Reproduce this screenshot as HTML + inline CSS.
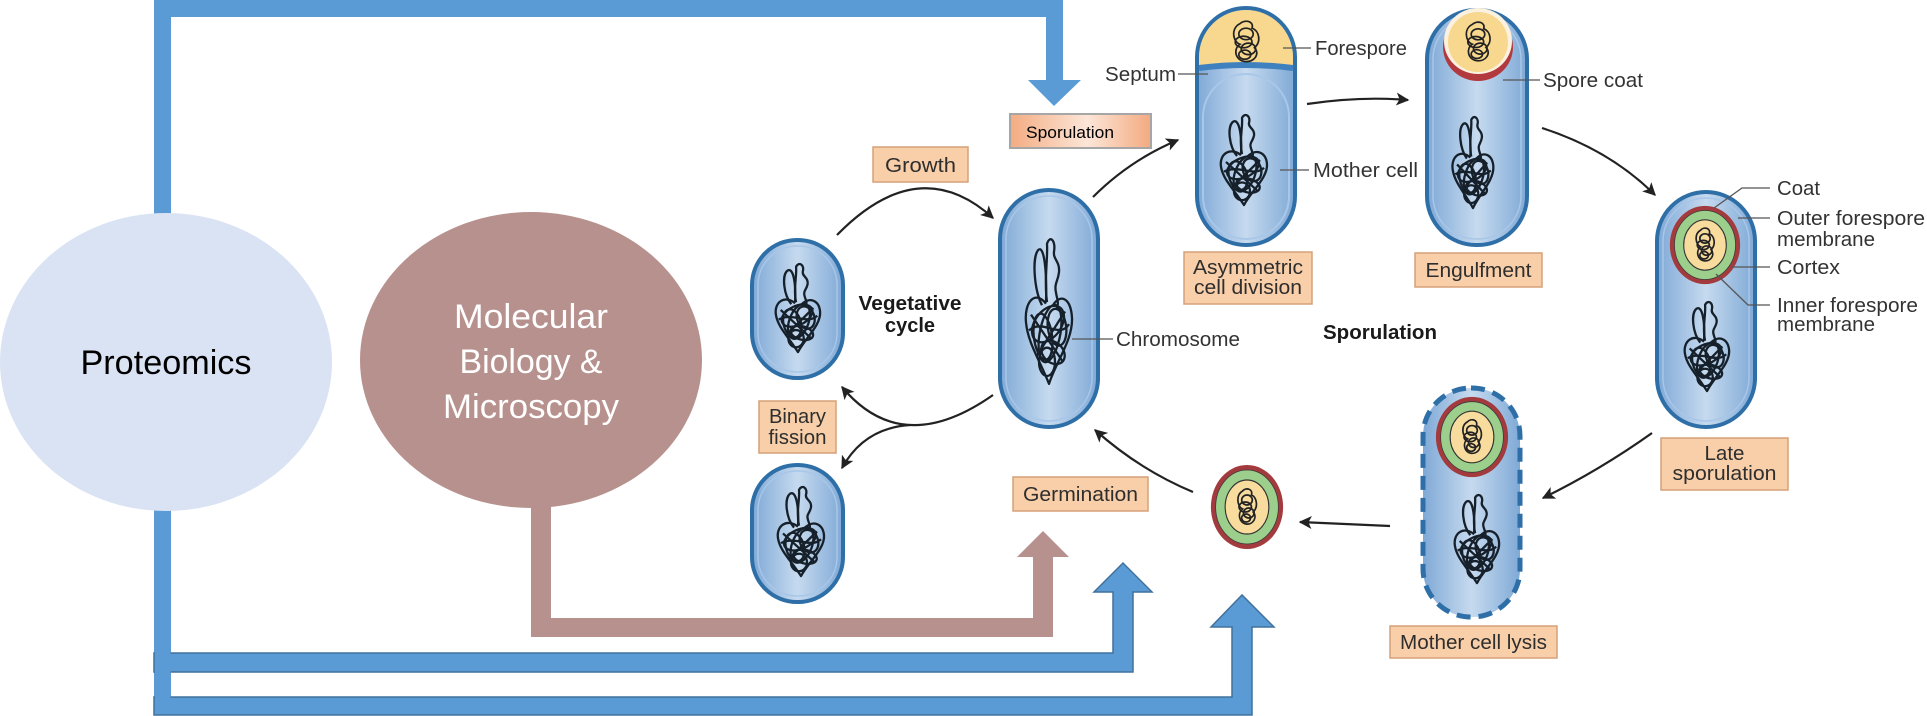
<!DOCTYPE html>
<html>
<head>
<meta charset="utf-8">
<style>
  html,body{margin:0;padding:0;background:#fff;}
  svg{display:block;}
  text{font-family:"Liberation Sans",sans-serif;}
</style>
</head>
<body>
<svg width="1927" height="716" viewBox="0 0 1927 716" xmlns="http://www.w3.org/2000/svg">
<defs>
  <linearGradient id="cg" x1="0" x2="1" y1="0" y2="0">
    <stop offset="0" stop-color="#7FA9D6"/>
    <stop offset="0.5" stop-color="#C6DAEF"/>
    <stop offset="1" stop-color="#7FA9D6"/>
  </linearGradient>
  <linearGradient id="sg" x1="0" x2="1" y1="0" y2="0">
    <stop offset="0" stop-color="#F3AC82"/>
    <stop offset="0.55" stop-color="#FCE6D8"/>
    <stop offset="1" stop-color="#F3AA80"/>
  </linearGradient>
  <marker id="ah" viewBox="0 0 10 10" refX="9" refY="5" markerWidth="13" markerHeight="13" markerUnits="userSpaceOnUse" orient="auto">
    <path d="M0,0 L10,5 L0,10 L2.5,5 z" fill="#222"/>
  </marker>
  <symbol id="chr" viewBox="0 0 52 96" preserveAspectRatio="none">
    <g fill="none" stroke="#16202a" stroke-width="2.3" stroke-linejoin="round">
      <path vector-effect="non-scaling-stroke" d="M19,44 C11,34 9,14 15,9 C21,5 24,22 23,42"/>
      <path vector-effect="non-scaling-stroke" d="M24,42 C21,28 25,14 24,5 C27,-1 33,3 31,10 C30,15 37,16 36,23 C35,29 31,30 33,36 C34,40 36,42 34,46"/>
      <path vector-effect="non-scaling-stroke" d="M23,43 C12,34 1,42 3,55 C5,68 16,78 26,94 C33,80 50,66 49,52 C48,40 38,36 30,44"/>
      <ellipse vector-effect="non-scaling-stroke" cx="25" cy="56" rx="17" ry="10" transform="rotate(-25 25 56)"/>
      <ellipse vector-effect="non-scaling-stroke" cx="27" cy="62" rx="10" ry="19" transform="rotate(20 27 62)"/>
      <ellipse vector-effect="non-scaling-stroke" cx="20" cy="64" rx="9" ry="15" transform="rotate(-15 20 64)"/>
      <ellipse vector-effect="non-scaling-stroke" cx="30" cy="74" rx="12" ry="7" transform="rotate(15 30 74)"/>
      <ellipse vector-effect="non-scaling-stroke" cx="24" cy="80" rx="8" ry="9"/>
      <ellipse vector-effect="non-scaling-stroke" cx="34" cy="58" rx="9" ry="12" transform="rotate(-20 34 58)"/>
      <path vector-effect="non-scaling-stroke" d="M8,50 L40,80 M42,48 L14,76 M6,60 C20,52 36,66 46,56"/>
    </g>
  </symbol>
  <symbol id="fchr" viewBox="0 0 30 40" preserveAspectRatio="none">
    <g fill="none" stroke="#222" stroke-width="1.7">
      <path vector-effect="non-scaling-stroke" d="M10,4 C2,8 4,20 10,22 C4,26 6,36 14,37 C22,38 27,30 22,25 C28,20 26,10 20,8 C22,2 14,0 10,4 Z"/>
      <ellipse vector-effect="non-scaling-stroke" cx="15" cy="13" rx="6" ry="5"/>
      <ellipse vector-effect="non-scaling-stroke" cx="13" cy="20" rx="7" ry="5"/>
      <ellipse vector-effect="non-scaling-stroke" cx="17" cy="26" rx="6" ry="5"/>
      <ellipse vector-effect="non-scaling-stroke" cx="14" cy="31" rx="5" ry="4"/>
    </g>
  </symbol>
  <symbol id="spore" viewBox="-40 -44 80 88" preserveAspectRatio="none">
    <ellipse cx="0" cy="0" rx="38" ry="42" fill="#A33B3E"/>
    <ellipse cx="0" cy="0" rx="33" ry="37" fill="#9CCF8B" stroke="#3b3b3b" stroke-width="0.8"/>
    <ellipse cx="0" cy="0" rx="23" ry="27" fill="#F8DC9E" stroke="#333" stroke-width="1.2"/>
    <use href="#fchr" x="-14" y="-20" width="28" height="40"/>
  </symbol>
  <clipPath id="asymclip"><rect x="1199" y="10" width="94" height="233" rx="47"/></clipPath>
</defs>

<!-- ===== Connectors ===== -->
<polygon points="154,0 1063,0 1063,80 1081,80 1054,106 1028,80 1046,80 1046,17 171,17 171,300 154,300" fill="#5B9BD5"/>
<rect x="154" y="400" width="17" height="315" fill="#5B9BD5"/>
<polygon points="154,653 1113,653 1113,592 1094,592 1123,563 1152,592 1133,592 1133,672 154,672" fill="#5B9BD5" stroke="#41719C" stroke-width="1.5"/>
<polygon points="154,697 1232,697 1232,627 1211,627 1242,595 1274,627 1252,627 1252,715 154,715" fill="#5B9BD5" stroke="#41719C" stroke-width="1.5"/>
<rect x="155" y="600" width="15.5" height="114" fill="#5B9BD5"/>
<polygon points="531,470 551,470 551,618 1033,618 1033,557 1017,557 1043,531 1069,557 1053,557 1053,637 531,637" fill="#B7918D"/>

<!-- ===== Ellipses ===== -->
<ellipse cx="166" cy="362" rx="166" ry="149" fill="#DAE3F3"/>
<text x="166" y="374" font-size="34" text-anchor="middle" fill="#000" textLength="171" lengthAdjust="spacingAndGlyphs">Proteomics</text>

<ellipse cx="531" cy="360" rx="171" ry="148" fill="#B7918D"/>
<text x="531" y="328" font-size="34" text-anchor="middle" fill="#fff" textLength="154" lengthAdjust="spacingAndGlyphs">Molecular</text>
<text x="531" y="373" font-size="34" text-anchor="middle" fill="#fff" textLength="143" lengthAdjust="spacingAndGlyphs">Biology &amp;</text>
<text x="531" y="418" font-size="34" text-anchor="middle" fill="#fff" textLength="176" lengthAdjust="spacingAndGlyphs">Microscopy</text>

<rect x="1010" y="114" width="141" height="34" fill="url(#sg)" stroke="#A6A6A6" stroke-width="2"/>
<text x="1026" y="138" font-size="17" fill="#000" textLength="88" lengthAdjust="spacingAndGlyphs">Sporulation</text>

<!-- ===== Cells ===== -->
<rect x="752" y="240" width="91" height="138" rx="45" fill="url(#cg)" stroke="#2F6FA8" stroke-width="4"/>
<rect x="758" y="246" width="79" height="126" rx="39" fill="none" stroke="#A8C6E8" stroke-width="1.5"/>
<use href="#chr" x="773" y="262" width="50" height="92"/>

<rect x="752" y="465" width="91" height="137" rx="45" fill="url(#cg)" stroke="#2F6FA8" stroke-width="4"/>
<rect x="758" y="471" width="79" height="125" rx="39" fill="none" stroke="#A8C6E8" stroke-width="1.5"/>
<use href="#chr" x="775" y="485" width="52" height="93"/>

<rect x="1000" y="190" width="98" height="237" rx="49" fill="url(#cg)" stroke="#2F6FA8" stroke-width="4"/>
<rect x="1006" y="196" width="86" height="225" rx="43" fill="none" stroke="#A8C6E8" stroke-width="1.5"/>
<use href="#chr" x="1023" y="236" width="52" height="151"/>

<rect x="1197" y="8" width="98" height="237" rx="49" fill="url(#cg)" stroke="#2F6FA8" stroke-width="4"/>
<g clip-path="url(#asymclip)">
  <path d="M1195,6 H1297 V66 Q1246,60 1195,66 Z" fill="#F8D88F"/>
</g>
<path d="M1199,68 Q1246,62 1293,68" fill="none" stroke="#3F80BE" stroke-width="6"/>
<rect x="1203" y="74" width="86" height="165" rx="43" fill="none" stroke="#A9C7E8" stroke-width="2"/>
<use href="#fchr" x="1228" y="19" width="36" height="46"/>
<use href="#chr" x="1218" y="113" width="52" height="94"/>

<rect x="1427" y="10" width="100" height="235" rx="49" fill="url(#cg)" stroke="#2F6FA8" stroke-width="4"/>
<rect x="1433" y="16" width="88" height="223" rx="43" fill="none" stroke="#A8C6E8" stroke-width="1.5"/>
<ellipse cx="1478" cy="47" rx="35" ry="34" fill="#B23A3E"/>
<ellipse cx="1478" cy="41" rx="34" ry="33" fill="#FBF1DE"/>
<ellipse cx="1478" cy="42" rx="30" ry="30" fill="#F8D88F"/>
<use href="#fchr" x="1461" y="20" width="34" height="44"/>
<use href="#chr" x="1450" y="115" width="46" height="95"/>

<rect x="1657" y="192" width="98" height="235" rx="49" fill="url(#cg)" stroke="#2F6FA8" stroke-width="4"/>
<rect x="1663" y="198" width="86" height="223" rx="43" fill="none" stroke="#A8C6E8" stroke-width="1.5"/>
<use href="#spore" x="1668" y="204" width="74" height="82"/>
<use href="#chr" x="1682" y="300" width="50" height="93"/>

<rect x="1423" y="388" width="97" height="229" rx="48" fill="url(#cg)"/>
<rect x="1423" y="388" width="97" height="229" rx="48" fill="none" stroke="#2F6FA8" stroke-width="5" stroke-dasharray="14 8"/>
<use href="#spore" x="1434" y="395" width="76" height="84"/>
<use href="#chr" x="1452" y="493" width="50" height="92"/>

<use href="#spore" x="1209" y="463" width="76" height="88"/>

<!-- ===== Black arrows ===== -->
<g fill="none" stroke="#222" stroke-width="2.2" marker-end="url(#ah)">
  <path d="M837,235 Q919,151 993,218"/>
  <path d="M993,395 Q902,459 842,387"/>
  <path d="M910,425 Q864,428 842,468"/>
  <path d="M1093,197 Q1130,160 1178,140"/>
  <path d="M1307,104 Q1360,96 1408,100"/>
  <path d="M1542,128 Q1610,150 1655,195"/>
  <path d="M1652,433 Q1600,470 1543,498"/>
  <path d="M1390,526 L1300,522"/>
  <path d="M1193,492 Q1140,470 1095,430"/>
</g>

<!-- ===== Leader lines ===== -->
<g fill="none" stroke="#555" stroke-width="1.3">
  <line x1="1072" y1="339" x2="1113" y2="339"/>
  <line x1="1283" y1="48" x2="1311" y2="48"/>
  <line x1="1178" y1="74" x2="1208" y2="74"/>
  <line x1="1280" y1="170" x2="1309" y2="170"/>
  <line x1="1503" y1="80" x2="1540" y2="80"/>
  <polyline points="1770,188 1742,188 1714,208"/>
  <line x1="1770" y1="218" x2="1738" y2="218"/>
  <line x1="1770" y1="267" x2="1732" y2="267"/>
  <polyline points="1770,305 1748,305 1716,274"/>
</g>

<!-- ===== Label boxes ===== -->
<g fill="#F9CFA9" stroke="#D6A079" stroke-width="1.5">
  <rect x="873" y="147" width="95" height="35"/>
  <rect x="759" y="401" width="77" height="52"/>
  <rect x="1013" y="477" width="135" height="34"/>
  <rect x="1184" y="252" width="128" height="52"/>
  <rect x="1415" y="253" width="127" height="34"/>
  <rect x="1661" y="438" width="127" height="52"/>
  <rect x="1390" y="626" width="167" height="32"/>
</g>
<g fill="#2e2e2e" font-size="20">
  <text x="920.5" y="172" text-anchor="middle" textLength="71" lengthAdjust="spacingAndGlyphs">Growth</text>
  <text x="797.5" y="423" text-anchor="middle" textLength="57" lengthAdjust="spacingAndGlyphs">Binary</text>
  <text x="797.5" y="444" text-anchor="middle" textLength="58" lengthAdjust="spacingAndGlyphs">fission</text>
  <text x="1080.5" y="501" text-anchor="middle" textLength="115" lengthAdjust="spacingAndGlyphs">Germination</text>
  <text x="1248" y="274" text-anchor="middle" textLength="110" lengthAdjust="spacingAndGlyphs">Asymmetric</text>
  <text x="1248" y="294" text-anchor="middle" textLength="108" lengthAdjust="spacingAndGlyphs">cell division</text>
  <text x="1478.5" y="277" text-anchor="middle" textLength="106" lengthAdjust="spacingAndGlyphs">Engulfment</text>
  <text x="1724.5" y="460" text-anchor="middle" textLength="40" lengthAdjust="spacingAndGlyphs">Late</text>
  <text x="1724.5" y="480" text-anchor="middle" textLength="104" lengthAdjust="spacingAndGlyphs">sporulation</text>
  <text x="1473.5" y="649" text-anchor="middle" textLength="147" lengthAdjust="spacingAndGlyphs">Mother cell lysis</text>
</g>

<!-- ===== Plain labels ===== -->
<g fill="#333" font-size="20">
  <text x="1116" y="346" textLength="124" lengthAdjust="spacingAndGlyphs">Chromosome</text>
  <text x="1315" y="55" textLength="92" lengthAdjust="spacingAndGlyphs">Forespore</text>
  <text x="1105" y="81" textLength="71" lengthAdjust="spacingAndGlyphs">Septum</text>
  <text x="1313" y="177" textLength="105" lengthAdjust="spacingAndGlyphs">Mother cell</text>
  <text x="1543" y="87" textLength="100" lengthAdjust="spacingAndGlyphs">Spore coat</text>
  <text x="1777" y="195" textLength="43" lengthAdjust="spacingAndGlyphs">Coat</text>
  <text x="1777" y="225" textLength="148" lengthAdjust="spacingAndGlyphs">Outer forespore</text>
  <text x="1777" y="246" textLength="98" lengthAdjust="spacingAndGlyphs">membrane</text>
  <text x="1777" y="274" textLength="63" lengthAdjust="spacingAndGlyphs">Cortex</text>
  <text x="1777" y="312" textLength="141" lengthAdjust="spacingAndGlyphs">Inner forespore</text>
  <text x="1777" y="331" textLength="98" lengthAdjust="spacingAndGlyphs">membrane</text>
</g>
<g fill="#1a1a1a" font-size="20" font-weight="bold">
  <text x="910" y="310" text-anchor="middle" textLength="103" lengthAdjust="spacingAndGlyphs">Vegetative</text>
  <text x="910" y="332" text-anchor="middle" textLength="50" lengthAdjust="spacingAndGlyphs">cycle</text>
  <text x="1323" y="339" textLength="114" lengthAdjust="spacingAndGlyphs">Sporulation</text>
</g>
</svg>
</body>
</html>
